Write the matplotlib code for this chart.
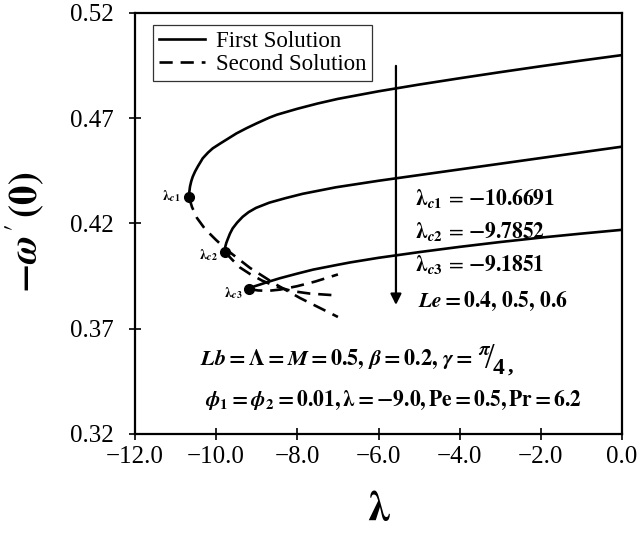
import matplotlib
matplotlib.use("Agg")
import matplotlib.pyplot as plt

plt.rcParams['font.family'] = ['Liberation Serif', 'DejaVu Serif']
plt.rcParams['mathtext.fontset'] = 'stix'

# ---------------- data ----------------
lam_c = [-10.6691, -9.7852, -9.1851]
f_c = [0.4324, 0.4065, 0.3889]

# first solution (upper branches)
up1_x = [-10.6691, -10.665, -10.645, -10.615, -10.578, -10.52, -10.455, -10.33, -10.2,
         -10.085, -9.9, -9.75, -9.5, -9.25, -9.0, -8.69, -8.5, -8.0, -7.5, -7.0,
         -6.0, -5.0, -4.0, -3.0, -2.0, -1.0, 0.0]
up1_y = [0.4324, 0.4345, 0.4375, 0.4400, 0.4422, 0.4447, 0.4470, 0.4510, 0.4537,
         0.4557, 0.4580, 0.4598, 0.4628, 0.4653, 0.4676, 0.4703, 0.4717, 0.4745, 0.4770, 0.4792,
         0.4828, 0.4860, 0.4890, 0.4919, 0.4947, 0.4974, 0.5000]

up2_x = [-9.7852, -9.775, -9.75, -9.716, -9.66, -9.593, -9.48, -9.346, -9.2, -9.02,
         -8.69, -8.3, -7.87, -7.05, -6.0, -5.0, -4.0, -3.0, -2.0, -1.0, 0.0]
up2_y = [0.4065, 0.4090, 0.4108, 0.4125, 0.4152, 0.4177, 0.4205, 0.4232, 0.4254, 0.4274,
         0.4299, 0.4320, 0.4341, 0.4372, 0.4403, 0.4430, 0.4457, 0.4484, 0.4511, 0.4538, 0.4565]

up3_x = [-9.1851, -9.15, -9.05, -8.92, -8.7, -8.43, -8.0, -7.61, -7.0, -6.7, -6.0,
         -5.0, -4.0, -3.0, -2.0, -1.0, 0.0]
up3_y = [0.3889, 0.3895, 0.3902, 0.3910, 0.3924, 0.3940, 0.3962, 0.3981, 0.4004, 0.4015,
         0.4037, 0.4064, 0.4089, 0.4112, 0.4133, 0.4152, 0.4170]

# second solution (lower branches)
lo1_x = [-10.6691, -10.595, -10.472, -10.275, -10.004, -9.733, -9.166, -8.550, -7.934, -7.0]
lo1_y = [0.4324, 0.4278, 0.4226, 0.4174, 0.4122, 0.4074, 0.3989, 0.3913, 0.3846, 0.3756]

lo2_x = [-9.7852, -9.610, -9.413, -9.166, -8.870, -8.525, -8.131, -7.688, -7.0]
lo2_y = [0.4065, 0.4029, 0.3991, 0.3960, 0.3929, 0.3901, 0.3879, 0.3867, 0.3858]

lo3_x = [-9.1851, -8.969, -8.723, -8.427, -8.008, -7.564, -7.0]
lo3_y = [0.3889, 0.3882, 0.3880, 0.3886, 0.3902, 0.3924, 0.3958]

xticks = [-12.0, -10.0, -8.0, -6.0, -4.0, -2.0, 0.0]
xtick_labels = ['\u221212.0', '\u221210.0', '\u22128.0', '\u22126.0', '\u22124.0', '\u22122.0', '0.0']
yticks = [0.32, 0.37, 0.42, 0.47, 0.52]
ytick_labels = ['0.32', '0.37', '0.42', '0.47', '0.52']

# ---------------- figure ----------------
fig = plt.figure(figsize=(6.39, 5.36), dpi=100)
ax = fig.add_axes([135/639, 1-434/536, (622-135)/639, (434-13)/536])

lw = 1.9
dash = (5, 3)
ax.plot(up1_x, up1_y, color='black', lw=lw, label='First Solution')
ax.plot(up2_x, up2_y, color='black', lw=lw)
ax.plot(up3_x, up3_y, color='black', lw=lw)
ax.plot(lo1_x, lo1_y, color='black', lw=lw, dashes=dash, label='Second Solution')
ax.plot(lo2_x, lo2_y, color='black', lw=lw, dashes=dash)
ax.plot(lo3_x, lo3_y, color='black', lw=lw, dashes=dash)
ax.plot(lam_c, f_c, 'o', color='black', ms=7, zorder=5)

ax.set_xlim(-12, 0)
ax.set_ylim(0.32, 0.52)
ax.set_xticks(xticks)
ax.set_xticklabels(xtick_labels)
ax.set_yticks(yticks)
ax.set_yticklabels(ytick_labels)
ax.tick_params(axis='both', direction='inout', length=9, width=1.2, labelsize=18)
ax.tick_params(axis='y', pad=11)
ax.tick_params(axis='x', pad=4)
for s in ax.spines.values():
    s.set_linewidth(1.6)

ax.set_xlabel(r'$\boldsymbol{\lambda}$', fontsize=30)
ax.xaxis.set_label_coords(0.5, -0.135)
ax.set_ylabel(r'$\mathbf{-}\boldsymbol{\omega}^{\,\prime}\,\mathbf{(0)}$', fontsize=28)
ax.yaxis.set_label_coords(-0.18, 0.48)

leg = ax.legend(loc='upper left', bbox_to_anchor=(18/487, 1-12/421), fontsize=16.5,
                frameon=True, fancybox=False, edgecolor='black', handlelength=2.0,
                borderpad=0.25, labelspacing=0.1, handletextpad=0.5, borderaxespad=0)
leg.get_frame().set_linewidth(0.9)

# arrow
ax.annotate('', xy=(-5.57, 0.3800), xytext=(-5.57, 0.4962),
            arrowprops=dict(arrowstyle='-|>', color='black', lw=1.6, mutation_scale=16))

# critical point labels
ax.text(-10.89, 0.4331, r'$\boldsymbol{\lambda}_{\boldsymbol{c}\mathbf{1}}$', fontsize=10,
        ha='right', va='center')
ax.text(-9.95, 0.4050, r'$\boldsymbol{\lambda}_{\boldsymbol{c}\mathbf{2}}$', fontsize=10,
        ha='right', va='center')
ax.text(-9.36, 0.3870, r'$\boldsymbol{\lambda}_{\boldsymbol{c}\mathbf{3}}$', fontsize=10,
        ha='right', va='center')

fs = 15.5
ax.text(-5.10, 0.4321, r'$\boldsymbol{\lambda}_{\boldsymbol{c}\mathbf{1}}\,=\,\mathbf{-10.6691}$', fontsize=fs, va='center')
ax.text(-5.10, 0.4160, r'$\boldsymbol{\lambda}_{\boldsymbol{c}\mathbf{2}}\,=\,\mathbf{-9.7852}$', fontsize=fs, va='center')
ax.text(-5.10, 0.4003, r'$\boldsymbol{\lambda}_{\boldsymbol{c}\mathbf{3}}\,=\,\mathbf{-9.1851}$', fontsize=fs, va='center')
ax.text(-5.03, 0.3832, r'$\boldsymbol{Le}\mathbf{=0.4,\,0.5,\,0.6}$', fontsize=fs, va='center')

t1 = ax.text(-10.40, 0.3552,
             r'$\boldsymbol{Lb}\mathbf{=\Lambda=}\boldsymbol{M}\mathbf{=0.5,}\,\boldsymbol{\beta}\mathbf{=0.2,}\,'
             r'\boldsymbol{\gamma}\mathbf{=}$',
             fontsize=16, va='center')
ax.annotate(r'$\boldsymbol{\pi}$', xy=(1, 0.5), xycoords=t1, xytext=(3.5, 6.5),
            textcoords='offset points', fontsize=14, ha='left', va='center')
ax.annotate('/', xy=(1, 0.5), xycoords=t1, xytext=(12, 0),
            textcoords='offset points', fontsize=25, ha='center', va='center')
ax.annotate('4', xy=(1, 0.5), xycoords=t1, xytext=(18.5, -6.5),
            textcoords='offset points', fontsize=17, fontweight='bold', ha='center', va='center')
ax.annotate(',', xy=(1, 0.5), xycoords=t1, xytext=(25, -5),
            textcoords='offset points', fontsize=16, fontweight='bold', ha='left', va='center')

ax.text(-10.27, 0.3362,
        r'$\boldsymbol{\phi}_{\mathbf{1}}\mathbf{=}\boldsymbol{\phi}_{\mathbf{2}}\mathbf{=0.01,}'
        r'\boldsymbol{\lambda}\mathbf{=-9.0,Pe=0.5,Pr=6.2}$',
        fontsize=fs, va='center')

fig.savefig('out.png', dpi=100)
